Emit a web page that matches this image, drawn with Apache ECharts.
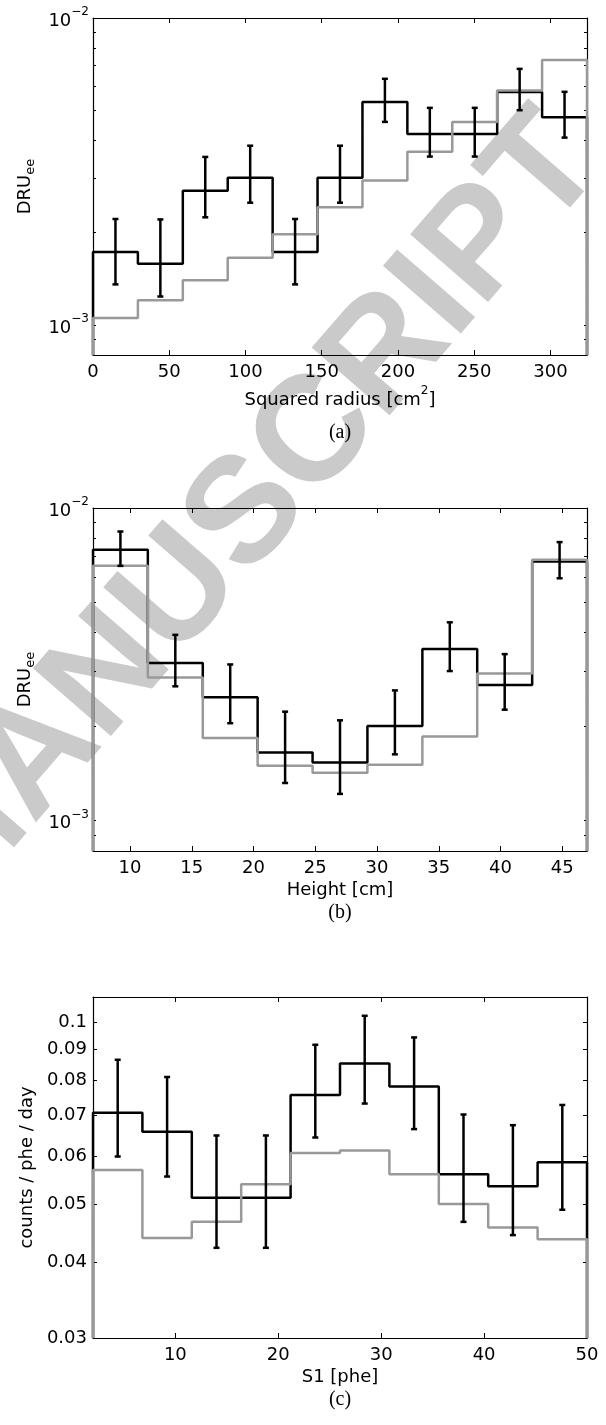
<!DOCTYPE html>
<html>
<head>
<meta charset="utf-8">
<title>DRU histograms</title>
<script src="https://cdn.jsdelivr.net/npm/echarts@6/dist/echarts.min.js"></script>
<style>
  html, body { margin: 0; padding: 0; background: #fff; }
  #chart { width: 606px; height: 1425px; }
</style>
</head>
<body>
<div id="chart"></div>
<script>
// (a) rate vs squared radius [cm^2], 11 bins
const radiusEdges = [0, 29.45, 58.91, 88.36, 117.82, 147.27, 176.73, 206.18, 235.64, 265.09, 294.55, 324]
const radiusRate = [1.73e-3, 1.585e-3, 2.74e-3, 3.02e-3, 1.73e-3, 3.02e-3, 5.33e-3, 4.19e-3, 4.19e-3, 5.74e-3, 4.755e-3]
const radiusLow = [1.358e-3, 1.24e-3, 2.245e-3, 2.505e-3, 1.358e-3, 2.505e-3, 4.59e-3, 3.54e-3, 3.54e-3, 5.01e-3, 4.08e-3]
const radiusHigh = [2.217e-3, 2.21e-3, 3.53e-3, 3.84e-3, 2.217e-3, 3.84e-3, 6.34e-3, 5.1e-3, 5.1e-3, 6.83e-3, 5.75e-3]
const radiusSim = [1.056e-3, 1.206e-3, 1.40e-3, 1.657e-3, 1.976e-3, 2.42e-3, 2.96e-3, 3.67e-3, 4.59e-3, 5.81e-3, 7.3e-3]

// (b) rate vs height [cm], 9 bins
const heightEdges = [7, 11.44, 15.89, 20.33, 24.78, 29.22, 33.67, 38.11, 42.56, 47]
const heightRate = [7.35e-3, 3.196e-3, 2.48e-3, 1.653e-3, 1.535e-3, 2.007e-3, 3.54e-3, 2.716e-3, 6.74e-3]
const heightLow = [6.53e-3, 2.69e-3, 2.05e-3, 1.32e-3, 1.218e-3, 1.63e-3, 3.01e-3, 2.265e-3, 5.96e-3]
const heightHigh = [8.41e-3, 3.93e-3, 3.16e-3, 2.232e-3, 2.094e-3, 2.61e-3, 4.31e-3, 3.41e-3, 7.78e-3]
const heightSim = [6.54e-3, 2.87e-3, 1.837e-3, 1.498e-3, 1.423e-3, 1.51e-3, 1.86e-3, 2.955e-3, 6.83e-3]

// (c) counts / phe / day vs S1 [phe], 10 bins
const s1Edges = [2, 6.8, 11.6, 16.4, 21.2, 26, 30.8, 35.6, 40.4, 45.2, 50]
const s1Rate = [0.0708, 0.0658, 0.0512, 0.0512, 0.0757, 0.0854, 0.0782, 0.056, 0.0535, 0.0586]
const s1Low = [0.0599, 0.0555, 0.0423, 0.0423, 0.0644, 0.0733, 0.0665, 0.0467, 0.0444, 0.0489]
const s1High = [0.0866, 0.0811, 0.0649, 0.0649, 0.0917, 0.1024, 0.0943, 0.0703, 0.0675, 0.0729]
const s1Sim = [0.0569, 0.0439, 0.0467, 0.0539, 0.0607, 0.0613, 0.056, 0.05, 0.0457, 0.0437]

// tick values
const radiusTicks = [0, 50, 100, 150, 200, 250, 300]
const heightTicks = [10, 15, 20, 25, 30, 35, 40, 45]
const s1Ticks = [10, 20, 30, 40, 50]
const druTicks = [8e-4, 9e-4, 1e-3, 2e-3, 3e-3, 4e-3, 5e-3, 6e-3, 7e-3, 8e-3, 9e-3, 1e-2]
const druLabels = [1e-3, 1e-2]
const countTicks = [0.03, 0.04, 0.05, 0.06, 0.07, 0.08, 0.09, 0.1]

const FONT = 'DejaVu Sans'
const BLACK = '#000'
const GRAY = '#999999'
const TEXT = { fontFamily: FONT, fontSize: 18, color: BLACK }

const chart = echarts.init(document.getElementById('chart'), null, { renderer: 'canvas' })

/**
 * stairs outline of a histogram, closed down to the axis floor
 */
function stairs (edges, values, floor) {
  const pts = [[edges[0], floor]]
  values.forEach((v, i) => pts.push([edges[i], v]))
  pts.push([edges[edges.length - 1], values[values.length - 1]])
  pts.push([edges[edges.length - 1], floor])
  return pts
}

function errorBars (edges, low, high) {
  return low.map((lo, i) => [(edges[i] + edges[i + 1]) / 2, lo, high[i]])
}

function drawErrorBar (params, api) {
  const top = api.coord([api.value(0), api.value(2)])
  const bottom = api.coord([api.value(0), api.value(1)])
  const cap = 3
  const style = { stroke: BLACK, lineWidth: 2.5 }
  return {
    type: 'group',
    children: [
      { type: 'line', shape: { x1: top[0], y1: top[1], x2: bottom[0], y2: bottom[1] }, style },
      { type: 'line', shape: { x1: top[0] - cap, y1: top[1], x2: top[0] + cap, y2: top[1] }, style },
      { type: 'line', shape: { x1: bottom[0] - cap, y1: bottom[1], x2: bottom[0] + cap, y2: bottom[1] }, style }
    ]
  }
}

// bottom axis with labels + top axis with ticks only
function xPair (gridIndex, min, max, ticks, name, rich) {
  const base = {
    type: 'value',
    gridIndex,
    min,
    max,
    splitLine: { show: false },
    axisLine: { show: true, onZero: false, lineStyle: { color: BLACK, width: 1.2 } },
    axisTick: { show: true, inside: true, length: 5, customValues: ticks, lineStyle: { color: BLACK, width: 1 } }
  }
  return [
    {
      ...base,
      position: 'bottom',
      name,
      nameLocation: 'middle',
      nameGap: 30,
      nameTextStyle: { ...TEXT, rich },
      axisLabel: { ...TEXT, margin: 8, customValues: ticks }
    },
    { ...base, position: 'top', axisLabel: { show: false } }
  ]
}

// left log axis with labels + right log axis with ticks only
function yPair (gridIndex, min, max, ticks, labels, label, name, tickLength) {
  const base = {
    type: 'log',
    logBase: 10,
    gridIndex,
    min,
    max,
    splitLine: { show: false },
    minorTick: { show: false },
    axisLine: { show: true, onZero: false, lineStyle: { color: BLACK, width: 1.2 } },
    axisTick: { show: true, inside: true, length: tickLength, customValues: ticks, lineStyle: { color: BLACK, width: 1 } }
  }
  return [
    {
      ...base,
      position: 'left',
      name,
      nameLocation: 'middle',
      nameRotate: 90,
      nameGap: 41,
      nameTextStyle: {
        ...TEXT,
        rich: {
          n: { ...TEXT, verticalAlign: 'top' },
          e: { ...TEXT, fontSize: 13, verticalAlign: 'bottom', padding: [8, 0, 0, 0] }
        }
      },
      axisLabel: { ...TEXT, customValues: labels, ...label }
    },
    { ...base, position: 'right', axisLabel: { show: false } }
  ]
}

const powerLabel = {
  margin: 4,
  formatter: v => `{b|10}{s|−${Math.round(-Math.log10(v))}}`,
  rich: {
    b: { ...TEXT, verticalAlign: 'bottom' },
    s: { ...TEXT, fontSize: 12, verticalAlign: 'top', padding: [0, 0, 12, 0] }
  }
}

const plainLabel = { margin: 6, formatter: v => String(v) }

function panelSeries (i, edges, rate, low, high, sim, floor) {
  const axes = { xAxisIndex: 2 * i, yAxisIndex: 2 * i }
  return [
    {
      ...axes,
      type: 'line',
      step: 'end',
      symbol: 'none',
      silent: true,
      z: 3,
      lineStyle: { color: BLACK, width: 2.5 },
      data: stairs(edges, rate, floor)
    },
    {
      ...axes,
      type: 'line',
      step: 'end',
      symbol: 'none',
      silent: true,
      z: 4,
      lineStyle: { color: GRAY, width: 2.5 },
      data: stairs(edges, sim, floor)
    },
    {
      ...axes,
      type: 'custom',
      silent: true,
      z: 5,
      encode: { x: 0, y: [1, 2] },
      renderItem: drawErrorBar,
      data: errorBars(edges, low, high)
    }
  ]
}

const supRich = {
  n: { ...TEXT, verticalAlign: 'bottom' },
  s: { ...TEXT, fontSize: 12, verticalAlign: 'top', padding: [0, 0, 12, 0] }
}

const panelLabel = (text, y) => ({
  type: 'text',
  x: 340,
  y,
  z: 10,
  style: {
    text,
    font: '20px "Liberation Serif"',
    fill: BLACK,
    align: 'center',
    verticalAlign: 'middle',
    textAlign: 'center',
    textVerticalAlign: 'middle'
  }
})

const option = {
  backgroundColor: '#fff',
  animation: false,
  grid: [
    { left: 93, right: 19, top: 18, height: 337, outerBoundsMode: 'none' },
    { left: 93, right: 19, top: 508, height: 343, outerBoundsMode: 'none' },
    { left: 93, right: 19, top: 997, height: 341, outerBoundsMode: 'none' }
  ],
  xAxis: [
    ...xPair(0, 0, 324, radiusTicks, '{n|Squared radius [cm}{s|2}{n|]}', supRich),
    ...xPair(1, 7, 47, heightTicks, 'Height [cm]'),
    ...xPair(2, 2, 50, s1Ticks, 'S1 [phe]')
  ],
  yAxis: [
    ...yPair(0, 8e-4, 1e-2, druTicks, druLabels, powerLabel, '{n|DRU}{e|ee}', 3),
    ...yPair(1, 8e-4, 1e-2, druTicks, druLabels, powerLabel, '{n|DRU}{e|ee}', 3),
    ...yPair(2, 0.03, 0.11, countTicks, countTicks, plainLabel, 'counts / phe / day', 4)
  ],
  graphic: [
    {
      type: 'text',
      x: 248,
      y: 515,
      z: -10,
      rotation: 49 * Math.PI / 180,
      style: {
        text: 'MANUSCRIPT',
        font: 'bold 150px "Liberation Sans"',
        fill: '#cacaca',
        align: 'center',
        verticalAlign: 'middle',
        textAlign: 'center',
        textVerticalAlign: 'middle'
      }
    },
    panelLabel('(a)', 433),
    panelLabel('(b)', 913),
    panelLabel('(c)', 1400)
  ],
  series: [
    ...panelSeries(0, radiusEdges, radiusRate, radiusLow, radiusHigh, radiusSim, 8e-4),
    ...panelSeries(1, heightEdges, heightRate, heightLow, heightHigh, heightSim, 8e-4),
    ...panelSeries(2, s1Edges, s1Rate, s1Low, s1High, s1Sim, 0.03)
  ]
}

chart.setOption(option)
</script>
</body>
</html>
